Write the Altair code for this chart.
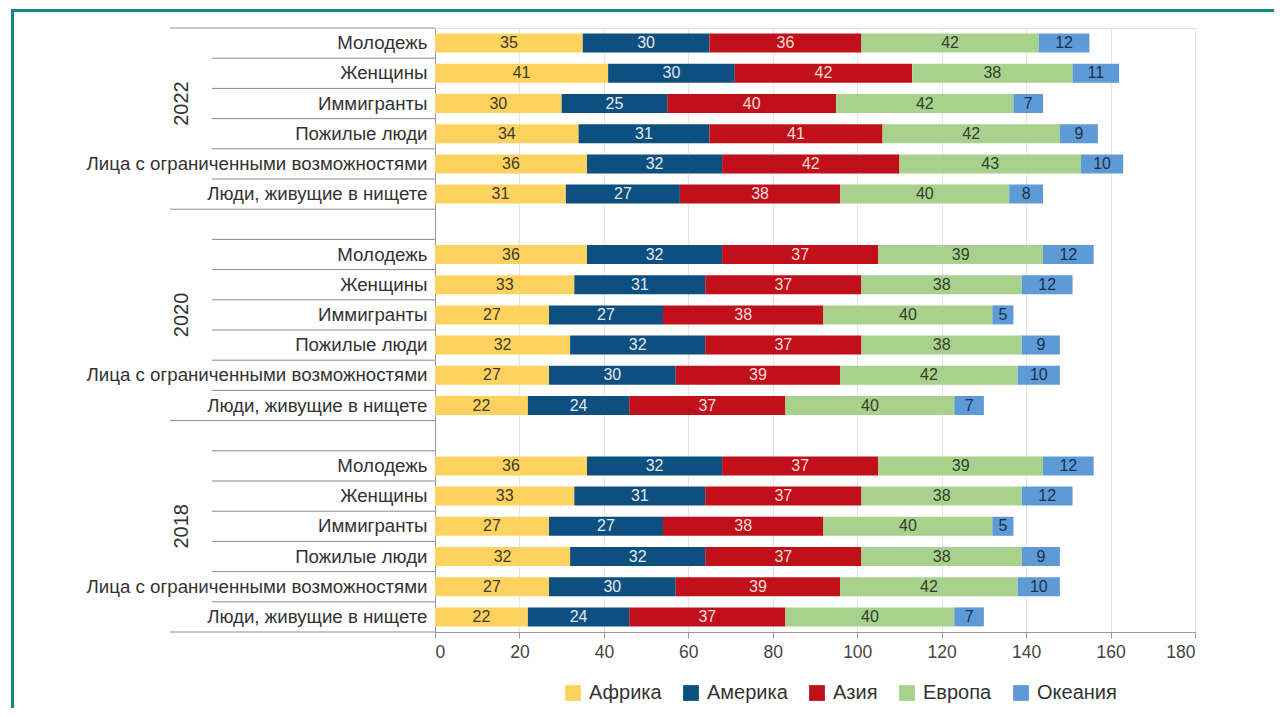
import altair as alt
import pandas as pd

regions = ["Африка", "Америка", "Азия", "Европа", "Океания"]
bar_colors = ["#FDD25E", "#0D4F7E", "#C0111A", "#A9D18E", "#5E9BD6"]
text_colors = ["#3f3a2a", "#e4e9f0", "#f5dcdc", "#34402c", "#1c2f4a"]
years = ["2022", "2020", "2018"]
categories = ["Молодежь", "Женщины", "Иммигранты", "Пожилые люди",
              "Лица с ограниченными возможностями", "Люди, живущие в нищете"]

africa_2022 = [35, 41, 30, 34, 36, 31]
america_2022 = [30, 30, 25, 31, 32, 27]
asia_2022 = [36, 42, 40, 41, 42, 38]
europe_2022 = [42, 38, 42, 42, 43, 40]
oceania_2022 = [12, 11, 7, 9, 10, 8]

africa_2020 = [36, 33, 27, 32, 27, 22]
america_2020 = [32, 31, 27, 32, 30, 24]
asia_2020 = [37, 37, 38, 37, 39, 37]
europe_2020 = [39, 38, 40, 38, 42, 40]
oceania_2020 = [12, 12, 5, 9, 10, 7]

africa_2018 = [36, 33, 27, 32, 27, 22]
america_2018 = [32, 31, 27, 32, 30, 24]
asia_2018 = [37, 37, 38, 37, 39, 37]
europe_2018 = [39, 38, 40, 38, 42, 40]
oceania_2018 = [12, 12, 5, 9, 10, 7]

series = {
    "2022": [africa_2022, america_2022, asia_2022, europe_2022, oceania_2022],
    "2020": [africa_2020, america_2020, asia_2020, europe_2020, oceania_2020],
    "2018": [africa_2018, america_2018, asia_2018, europe_2018, oceania_2018],
}

rows = []
for y in years:
    for ri, reg in enumerate(regions):
        for ci, cat in enumerate(categories):
            rows.append({"key": f"{y}|{cat}", "region": reg, "order": ri,
                         "value": series[y][ri][ci], "tc": text_colors[ri]})
df = pd.DataFrame(rows)

domain = []
for i, y in enumerate(years):
    domain += [f"{y}|{c}" for c in categories]
    if i < len(years) - 1:
        domain.append(f"gap{i}|")

yscale = alt.Scale(domain=domain, paddingInner=0, paddingOuter=0)
font = "Liberation Sans"

base = alt.Chart(df).transform_stack(
    stack="value", as_=["x0", "x1"], groupby=["key"], sort=[alt.SortField("order")]
).transform_calculate(mid="(datum.x0 + datum.x1) / 2")

bars = base.mark_bar(height={"band": 0.63}).encode(
    x=alt.X("x0:Q", scale=alt.Scale(domain=[0, 180]),
            axis=alt.Axis(values=list(range(0, 181, 20)), title=None, grid=True,
                          gridColor="#e4e4e4", tickColor="#999", tickSize=6,
                          domainColor="#999", labelFontSize=17.5, labelColor="#444",
                          labelPadding=5, labelFont=font)),
    x2="x1:Q",
    y=alt.Y("key:N", scale=yscale, sort=domain,
            axis=alt.Axis(title=None, labelExpr="split(datum.value, '|')[1]",
                          ticks=False, domainColor="#999", labelFontSize=18.7,
                          labelColor="#333", labelPadding=8, labelFont=font,
                          grid=False, labelLimit=500)),
    color=alt.Color("region:N", scale=alt.Scale(domain=regions, range=bar_colors),
                    legend=alt.Legend(title=None, orient="none", legendX=128, legendY=655,
                                      direction="horizontal", symbolType="square",
                                      symbolSize=250, symbolStrokeWidth=0,
                                      labelFontSize=20, labelFont=font,
                                      labelColor="#333", columnPadding=19,
                                      symbolOffset=0, labelOffset=6)),
)

labels = base.mark_text(fontSize=16, font=font).encode(
    x=alt.X("mid:Q"),
    y=alt.Y("key:N", scale=yscale, sort=domain),
    text=alt.Text("value:Q"),
    color=alt.Color("tc:N", scale=None),
)

first_keys = [f"{y}|{categories[0]}" for y in years]
last_keys = [f"{y}|{categories[-1]}" for y in years]
top_long = pd.DataFrame({"key": [first_keys[0]]})
bottom_long = pd.DataFrame({"key": last_keys})
short_tops = pd.DataFrame({"key": [k for k in df["key"].unique() if k != first_keys[0]]})

rule_kw = dict(color="#8a8a8a", strokeWidth=1, clip=False)
r1 = alt.Chart(top_long).mark_rule(**rule_kw).encode(
    y=alt.Y("key:N", scale=yscale, sort=domain, bandPosition=0),
    x=alt.value(-265), x2=alt.value(0))
r2 = alt.Chart(bottom_long).mark_rule(**rule_kw).encode(
    y=alt.Y("key:N", scale=yscale, sort=domain, bandPosition=1),
    x=alt.value(-265), x2=alt.value(0))
r3 = alt.Chart(short_tops).mark_rule(**rule_kw).encode(
    y=alt.Y("key:N", scale=yscale, sort=domain, bandPosition=0),
    x=alt.value(-223), x2=alt.value(0))

year_df = pd.DataFrame({"key": [f"{y}|{categories[2]}" for y in years], "year": years})
year_text = alt.Chart(year_df).mark_text(angle=270, fontSize=20, font=font, color="#333",
                                         align="center", baseline="middle").encode(
    y=alt.Y("key:N", scale=yscale, sort=domain),
    x=alt.value(-253), text="year:N")

border = alt.Chart(pd.DataFrame({"a": [0]})).mark_rect(
    filled=False, stroke="#0E8A87", strokeWidth=3, clip=False).encode(
    x=alt.value(-422.5), x2=alt.value(1000), y=alt.value(-17.5), y2=alt.value(900))

chart = alt.layer(border, r1, r2, r3, year_text, bars, labels).properties(
    width=760, height=604,
    autosize=alt.AutoSizeParams(type="none"),
    padding={"left": 427, "top": 20, "right": 79, "bottom": 76},
).configure_view(strokeWidth=0).configure(font=font)

chart.save("out.html", embed_options={"renderer": "svg", "actions": False})
